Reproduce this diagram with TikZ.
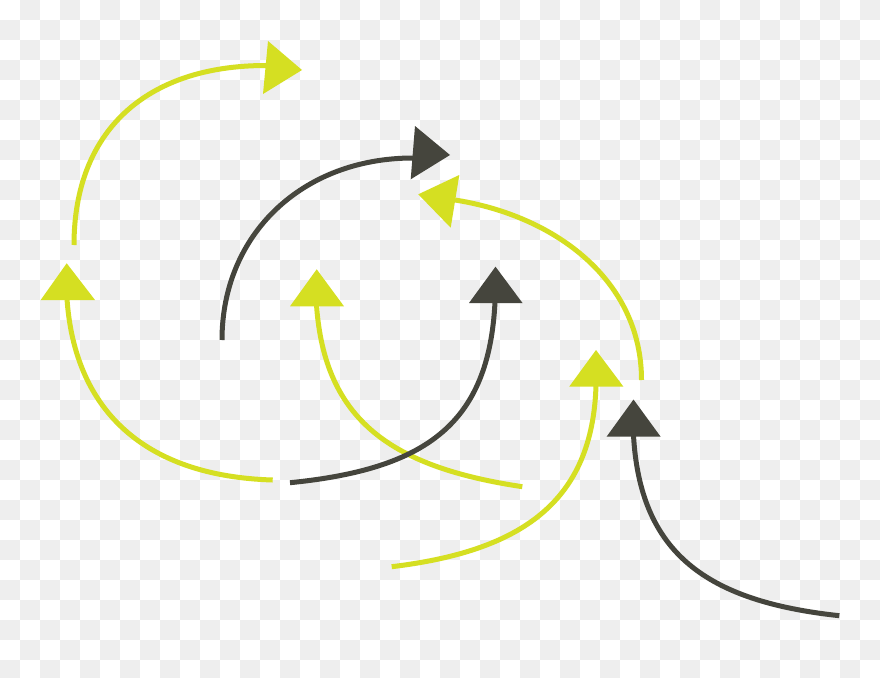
\documentclass[tikz,border=0pt]{standalone}
\definecolor{ylw}{RGB}{213,223,34}
\definecolor{drk}{RGB}{69,69,61}
\definecolor{chk}{RGB}{238,238,238}
\tikzset{
  yarc/.style={draw=ylw, line width=5pt},
  darc/.style={draw=drk, line width=5pt},
  yhead/.style={fill=ylw},
  dhead/.style={fill=drk},
  chksq/.style={fill=chk}
}
\begin{document}
\begin{tikzpicture}[x=1pt,y=1pt]
\useasboundingbox (0,0) rectangle (880,-677);
\begin{scope}
  \clip (0,0) rectangle (880,-677);
  \fill[white] (0,0) rectangle (880,-677);
  \foreach \i in {0,...,43}{\foreach \j in {0,...,33}{%
    \ifodd\numexpr\i+\j\relax \fill[chksq] (20*\i,-20*\j) rectangle ++(20,-20);\fi}}
\end{scope}
% yellow arcs
\draw[yarc] (74,-245) .. controls (74,-132) and (145,-65.5) .. (266,-65.5);
\fill[yhead] (268,-41) -- (263,-94) -- (302,-70) -- cycle;
\draw[yarc] (641.5,-380) .. controls (641.5,-281) and (556.4,-216) .. (455,-200);
\fill[yhead] (418.3,-194.3) -- (459.3,-175) -- (450.7,-227.7) -- cycle;
\draw[yarc] (272.7,-480) .. controls (145.2,-476.2) and (74.85,-411.2) .. (67,-299);
\fill[yhead] (66.7,-263.3) -- (40.7,-300) -- (95,-300) -- cycle;
\draw[yarc] (522.3,-486.7) .. controls (391.5,-467.1) and (324.6,-420.6) .. (316.5,-305);
\fill[yhead] (316.7,-269.3) -- (290,-306.3) -- (344,-306.3) -- cycle;
\draw[yarc] (391.7,-566.7) .. controls (522.3,-551) and (592.5,-501.3) .. (596,-385.5);
\fill[yhead] (596,-350) -- (569.3,-386.5) -- (623.3,-386.5) -- cycle;
% dark arcs
\draw[darc] (222,-340) .. controls (222,-234.4) and (302.2,-158) .. (413,-158);
\fill[dhead] (415,-126) -- (410.7,-179.3) -- (450,-155) -- cycle;
\draw[darc] (290,-482.7) .. controls (427.35,-469) and (488.95,-423.1) .. (495,-302);
\fill[dhead] (495.5,-266.7) -- (469,-303) -- (522.5,-303) -- cycle;
\draw[darc] (839.3,-615.7) .. controls (705.5,-601.25) and (640.2,-552.6) .. (633.5,-435.5);
\fill[dhead] (633.5,-399.5) -- (606.7,-436.5) -- (660.5,-436.5) -- cycle;
\end{tikzpicture}
\end{document}
